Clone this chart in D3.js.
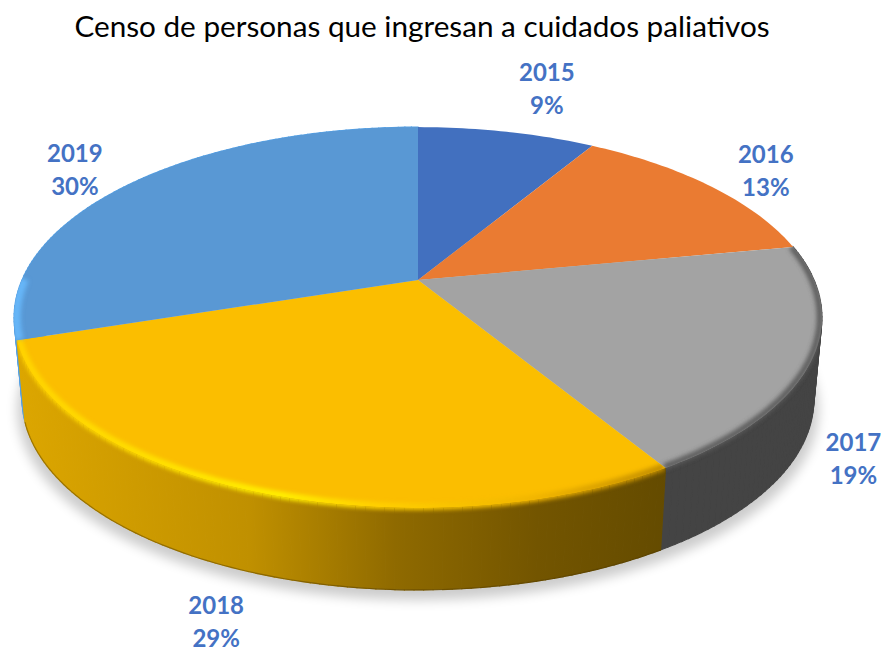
<!DOCTYPE html>
<html>
<script src="https://d3js.org/d3.v7.min.js"></script>

<head>
    <style>
        body {
            margin: 0;
            background-color: white;
            font-family: Lato, "Open Sans", sans-serif;
        }

        svg {
            display: block;
        }
    </style>
</head>

<body>
    <svg width="885" height="653"></svg>
</body>
<script>
    const years = ["2015", "2016", "2017", "2018", "2019"];
    const shares = [8.6, 13.4, 19.3, 28.7, 30];
    const topColors = ["#4270bf", "#ea7b32", "#a3a3a3", "#fbbe00", "#5998d4"];

    // pixel nudge of each label from the rim point at the middle of its slice
    const labelNudge = [[40, -51], [56, -23], [42, 90], [-33, 124], [-56, -22]];

    const title = "Censo de personas que ingresan a cuidados paliativos";

    const width = 885,
        height = 653;
    const svg = d3.select("svg");

    // tilted disc: perspective map from the unit circle to the screen
    const apex = { x: 418, y: 280 },
        tilt = -0.197,
        spreadX = 396,
        spreadY = 183,
        wallDrop = 82,
        wallScaleX = 0.98;

    const xScale = d3.scaleLinear().domain([-1, 1]).range([apex.x - spreadX, apex.x + spreadX]);
    const yScale = d3.scaleLinear().domain([-1, 1]).range([apex.y - spreadY, apex.y + spreadY]);

    function project(angle, r = 1) {
        const u = r * Math.sin(angle),
            v = -r * Math.cos(angle),
            w = 1 + tilt * v;
        return [xScale(u / w), yScale(v / w)];
    }

    function projectBottom(angle) {
        const [x, y] = project(angle);
        return [apex.x + (x - apex.x) * wallScaleX, y + wallDrop];
    }

    function angleSteps(a0, a1) {
        const n = Math.max(2, Math.ceil((a1 - a0) / 0.02));
        return d3.range(n + 1).map(i => a0 + (a1 - a0) * i / n);
    }

    const pie = d3.pie().sort(null);
    const slices = pie(shares).map((s, i) => ({ ...s, year: years[i], color: topColors[i], index: i }));
    const line = d3.line();
    const total = d3.sum(shares);
    const pct = d3.format(".0%");

    function topPath(d) {
        return line([project(0, 0), ...angleSteps(d.startAngle, d.endAngle).map(a => project(a))]) + "Z";
    }

    function quadPath([a, b]) {
        return line([project(a), project(b), projectBottom(b), projectBottom(a)]) + "Z";
    }

    const defs = svg.append("defs");
    defs.append("filter").attr("id", "shadowBlur")
        .attr("x", "-10%").attr("y", "-10%").attr("width", "120%").attr("height", "120%")
        .append("feGaussianBlur").attr("stdDeviation", 6);
    defs.append("filter").attr("id", "rimBlur")
        .attr("filterUnits", "userSpaceOnUse")
        .attr("x", 0).attr("y", 0).attr("width", width).attr("height", height)
        .append("feGaussianBlur").attr("stdDeviation", 2);

    function gradient(id, stops) {
        const g = defs.append("linearGradient").attr("id", id)
            .attr("gradientUnits", "userSpaceOnUse")
            .attr("x1", 20).attr("x2", 667).attr("y1", 0).attr("y2", 0);
        stops.forEach(s => g.append("stop").attr("offset", s[0]).attr("stop-color", s[1]));
    }
    gradient("yellowWall", [[0, "#dca600"], [0.355, "#c09000"], [0.58, "#8f6a00"], [0.8, "#735500"], [1, "#644b00"]]);
    gradient("yellowRim", [[0, "#ffd400"], [0.2, "#ffe000"], [0.4, "#fff000"], [0.55, "#ffd000"], [0.8, "#f0b400"], [1, "#c08c00"]]);

    const wallFill = { 2: "#444444", 3: "url(#yellowWall)", 4: "#55a0e4" };
    const rimStyle = {
        2: { color: "#5c5c5c", size: 6, span: 2 },
        3: { color: "url(#yellowRim)", size: 7, span: 2 },
        4: { color: "#66b6f8", size: 9, span: 0.32 },
    };

    // each rim highlight stays inside its own slice
    [4, 2, 3].forEach(i => {
        const d = slices[i];
        const clip = defs.append("clipPath").attr("id", "clip" + i);
        clip.append("path").attr("d", topPath(d));
        clip.selectAll(null)
            .data(d3.pairs(angleSteps(d.startAngle, d.endAngle)))
            .join("path")
            .attr("d", quadPath);
    });

    // soft shadow under the disc
    svg.append("path")
        .attr("fill", "#000")
        .attr("opacity", 0.2)
        .attr("filter", "url(#shadowBlur)")
        .attr("transform", "translate(0,10)")
        .attr("d", line(angleSteps(0, 2 * Math.PI).map(a => {
            const [x, y] = projectBottom(a);
            return [apex.x + (x - apex.x) * 1.012, y];
        })) + "Z");

    // side walls, drawn from the back slices to the front ones
    [4, 2, 3].forEach(i => {
        const d = slices[i];
        svg.append("g").selectAll("path")
            .data(d3.pairs(angleSteps(d.startAngle, d.endAngle)))
            .join("path")
            .attr("fill", wallFill[i])
            .attr("stroke", wallFill[i])
            .attr("stroke-width", 1.2)
            .attr("d", quadPath);
    });

    // thin dark edge under the yellow wall
    svg.append("path")
        .attr("fill", "none")
        .attr("stroke", "#4f3a00")
        .attr("stroke-width", 1.2)
        .attr("opacity", 0.45)
        .attr("d", line(angleSteps(slices[3].startAngle, slices[3].endAngle).map(projectBottom)));

    // top faces
    svg.append("g").selectAll("path")
        .data(slices)
        .join("path")
        .attr("fill", d => d.color)
        .attr("d", topPath);

    // bevel along the rim of the front slices
    [4, 2, 3].forEach(i => {
        const d = slices[i];
        const rimEnd = Math.min(d.endAngle, d.startAngle + rimStyle[i].span);
        svg.append("g")
            .attr("clip-path", "url(#clip" + i + ")")
            .append("path")
            .attr("fill", "none")
            .attr("stroke", rimStyle[i].color)
            .attr("stroke-width", rimStyle[i].size)
            .attr("filter", "url(#rimBlur)")
            .attr("d", line(angleSteps(d.startAngle, rimEnd).map(a => project(a, 0.995))));
    });

    // title
    svg.append("text")
        .attr("x", 422)
        .attr("y", 37)
        .attr("text-anchor", "middle")
        .attr("font-size", 29.7)
        .attr("fill", "black")
        .text(title);

    // data labels
    const labels = svg.append("g").selectAll("text")
        .data(slices)
        .join("text")
        .attr("text-anchor", "middle")
        .attr("font-size", 24)
        .attr("font-weight", "bold")
        .attr("fill", "#4472c4")
        .attr("transform", d => {
            const [x, y] = project((d.startAngle + d.endAngle) / 2);
            const n = labelNudge[d.index];
            return `translate(${x + n[0]},${y + n[1]})`;
        });
    labels.append("tspan").attr("x", 0).attr("y", 0).text(d => d.year);
    labels.append("tspan").attr("x", 0).attr("y", 33).text(d => pct(d.value / total));
</script>

</html>
